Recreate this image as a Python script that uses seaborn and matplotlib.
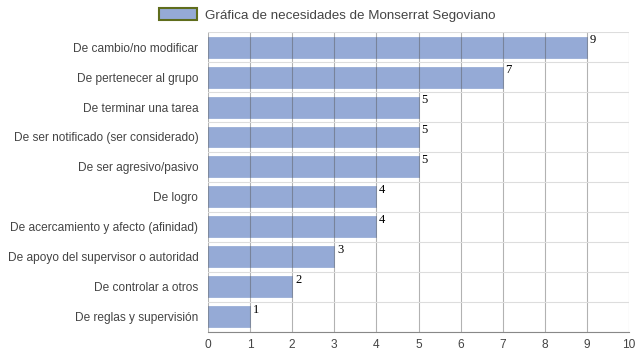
import numpy as np
import pandas as pd
import matplotlib
matplotlib.use("Agg")
import matplotlib.pyplot as plt
import seaborn as sns
from matplotlib.patches import Patch

# Data
categories = [
    "De cambio/no modificar",
    "De pertenecer al grupo",
    "De terminar una tarea",
    "De ser notificado (ser considerado)",
    "De ser agresivo/pasivo",
    "De logro",
    "De acercamiento y afecto (afinidad)",
    "De apoyo del supervisor o autoridad",
    "De controlar a otros",
    "De reglas y supervisión",
]
values = [9, 7, 5, 5, 5, 4, 4, 3, 2, 1]
series_name = "Gráfica de necesidades de Monserrat Segoviano"

df = pd.DataFrame({"categoria": categories, "valor": values})

sns.set_style("white")
plt.rcParams["font.family"] = ["Liberation Sans", "DejaVu Sans"]

fig = plt.figure(figsize=(6.39, 3.6), dpi=100)
ax = fig.add_axes([0.3255, 0.078, 0.659, 0.833])

bar_color = "#95aad6"
sns.barplot(data=df, x="valor", y="categoria", orient="h", color=bar_color,
            width=0.7, edgecolor="#9aaed8", linewidth=0.6, saturation=1, ax=ax)

ax.set_xlim(0, 10)
ax.set_ylim(len(categories) - 0.5, -0.5)
ax.set_xticks(range(0, 11))
ax.set_xlabel("")
ax.set_ylabel("")

# gridlines: vertical on top of bars, horizontal between categories
ax.set_axisbelow(False)
ax.grid(axis="x", color="#555555", alpha=0.45, linewidth=0.8)
ax.set_yticks(np.arange(-0.5, len(categories), 1), minor=True)
ax.grid(axis="y", which="minor", color="#dddddd", linewidth=0.8)
ax.tick_params(axis="y", which="minor", length=6, color="#dddddd", width=0.8)
ax.tick_params(axis="y", which="major", length=0, pad=7, labelsize=8.6, labelcolor="#444444")
ax.tick_params(axis="x", length=0, pad=5, labelsize=8.6, labelcolor="#444444")

for side in ["top", "right", "left"]:
    ax.spines[side].set_visible(False)
ax.spines["bottom"].set_color("#888888")
ax.spines["bottom"].set_linewidth(0.8)

# value labels
for i, v in enumerate(values):
    ax.annotate(str(v), xy=(v, i - 0.42), xytext=(2, 0), textcoords="offset points",
                ha="left", va="top", fontsize=9, family="Liberation Serif", color="black")

legend_handle = Patch(facecolor=bar_color, edgecolor="#5f6d1c", linewidth=1.5)
fig.legend(handles=[legend_handle], labels=[series_name], loc="upper center",
           bbox_to_anchor=(0.512, 1.01), frameon=False, fontsize=9.6,
           handlelength=2.8, handleheight=1.0, handletextpad=0.6,
           labelcolor="#444444")

fig.savefig("out.png", dpi=100)
